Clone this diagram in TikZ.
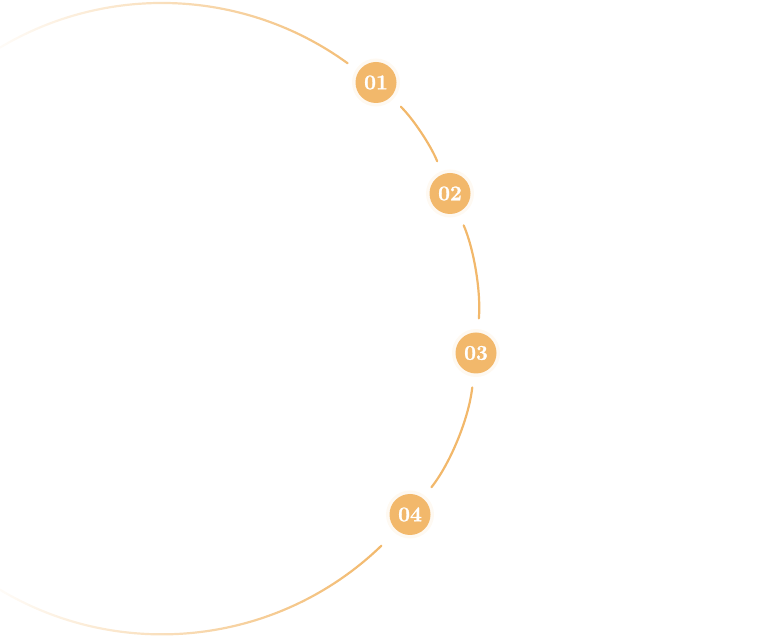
\documentclass[tikz,border=0pt]{standalone}
\usepackage{fontspec}
\usepackage{xcolor}
\usepackage{tikz}
\usetikzlibrary{fadings}

\newfontfamily\badgefont{Latin Modern Roman}[FakeBold=1.2]
\definecolor{badgeorange}{RGB}{242,184,107}
\tikzfading[name=arcfade, left color=transparent!100, right color=transparent!0]

\begin{document}
\begin{tikzpicture}[x=1pt, y=1pt]
        % Define styles
        \tikzset{
            badge/.style={circle, fill=badgeorange, text=white, minimum size=41pt, inner sep=0pt,
                preaction={draw=badgeorange!9, line width=7pt},
                font=\badgefont\fontsize{21}{21}\selectfont\bfseries},
            arcline/.style={draw=badgeorange, line width=2.2pt, line cap=round},
            link/.style={arcline, shorten <=14pt, shorten >=14pt, looseness=0.85}
        }

        \useasboundingbox (0,0) rectangle (779,637);
        \clip (0,0) rectangle (779,637);
        \coordinate (centre) at (162,319);

        % Faded arcs
        \draw[arcline, path fading=arcfade]
            ([shift={(54:316)}]centre) arc[start angle=54, end angle=125, radius=316]
            ([shift={(-46:316)}]centre) arc[start angle=-46, end angle=-125, radius=316];

        % Nodes
        \node[badge] (badge_node_1) at (376,554.5) {01};
        \node[badge] (badge_node_2) at (450,443.5) {02};
        \node[badge] (badge_node_3) at (476,284) {03};
        \node[badge] (badge_node_4) at (410,122.5) {04};

        % Arcs
        \draw[link] (badge_node_1) to[bend left=12] (badge_node_2);
        \draw[link] (badge_node_2) to[bend left=14] (badge_node_3);
        \draw[link] (badge_node_3) to[bend left=16] (badge_node_4);
    \end{tikzpicture}
\end{document}
